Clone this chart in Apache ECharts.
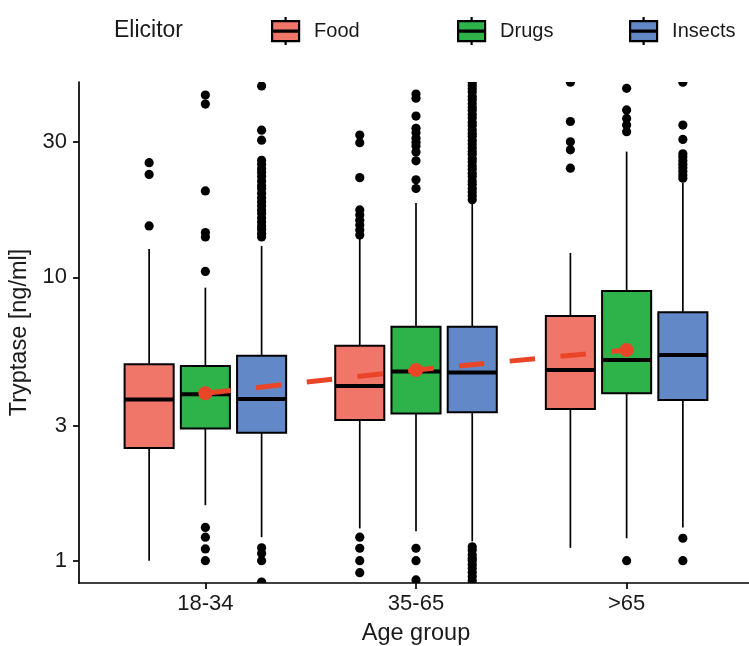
<!DOCTYPE html>
<html>
<head>
<meta charset="utf-8">
<script src="https://cdn.jsdelivr.net/npm/echarts@6/dist/echarts.min.js"></script>
<style>
  html, body { margin: 0; padding: 0; background: #fff; }
  #chart { width: 749px; height: 646px; }
</style>
</head>
<body>
<div id="chart"></div>
<script>
// ---------- data ----------
const groups = ['18-34', '35-65', '>65'];
const elicitors = ['Food', 'Drugs', 'Insects'];
const yTickLabels = [1, 3, 10, 30];

// [lower whisker, Q1, median, Q3, upper whisker] per age group
const foodStats = [
  [1.00, 2.50, 3.71, 4.94, 12.6],
  [1.30, 3.14, 4.14, 5.74, 13.9],
  [1.11, 3.43, 4.71, 7.31, 12.2]
];
const drugsStats = [
  [1.57, 2.93, 3.87, 4.87, 9.2],
  [1.27, 3.31, 4.65, 6.70, 18.3],
  [1.20, 3.90, 5.11, 8.95, 27.8]
];
const insectsStats = [
  [1.21, 2.83, 3.72, 5.29, 12.9],
  [1.17, 3.34, 4.62, 6.70, 18.5],
  [1.31, 3.69, 5.32, 7.53, 21.6]
];

// outliers per age group
const foodOutliers = [
  [25.4, 23.1, 15.2],
  [31.8, 29.9, 22.5, 17.3, 16.6, 15.9, 15.3, 14.7, 14.1, 1.21, 1.106, 1.0, 0.907],
  [48.9, 35.5, 30.1, 28.2, 24.3]
];
const drugsOutliers = [
  [44.0, 40.9, 20.2, 14.4, 13.9, 10.5, 1.31, 1.21, 1.10, 1.0],
  [44.4, 42.9, 37.1, 33.6, 32.4, 31.0, 30.0, 29.1, 27.7, 25.8, 22.1, 20.6, 1.106, 1.0, 0.855],
  [46.5, 39.0, 36.4, 34.5, 32.7, 1.0]
];
const insectsOutliers = [
  [47.4, 33.1, 30.5, 25.9, 25.1, 24.2, 23.5, 22.7, 21.9, 21.1, 20.6, 19.8, 19.1, 18.5, 17.9,
   17.3, 16.8, 16.2, 15.7, 15.2, 14.8, 14.3, 13.9, 1.11, 1.06, 1.0, 0.84],
  [48.9, 47.6, 46.3, 45.1, 43.5, 42.4, 41.0, 39.8, 38.9, 37.6, 36.5, 35.3, 34.4, 33.2, 32.3,
   31.5, 30.4, 29.6, 28.7, 27.9, 27.2, 26.3, 25.6, 24.8, 24.1, 23.3, 22.7, 21.9, 21.3, 20.6,
   20.0, 19.4, 18.8, 1.12, 1.09, 1.05, 1.02, 1.0, 0.97, 0.94, 0.91, 0.88, 0.85],
  [48.9, 34.5, 30.7, 27.3, 26.6, 25.8, 25.1, 24.4, 23.7, 23.0, 22.4, 1.20, 1.0]
];

// mean tryptase trend (drawn at the Drugs position)
const trendValues = [3.90, 4.71, 5.54];

// ---------- styling ----------
const colors = { Food: '#F0766A', Drugs: '#2EB24A', Insects: '#6288C7' };
const dodge = { Food: -0.267, Drugs: 0, Insects: 0.267 };
const boxHalf = 0.1165;
const fontFamily = '"Liberation Sans", Arial, sans-serif';
const textColor = '#1a1a1a';

const statsBy = { Food: foodStats, Drugs: drugsStats, Insects: insectsStats };
const outliersBy = { Food: foodOutliers, Drugs: drugsOutliers, Insects: insectsOutliers };

const legendIcon = 'path://M13.5,0L13.5,4M0,4L27,4L27,13.4L0,13.4ZM0,14.6L27,14.6L27,24L0,24ZM13.5,24L13.5,28';

function boxSeries(name) {
  const off = dodge[name];
  return {
    name: name,
    type: 'custom',
    z: 2,
    itemStyle: { color: colors[name] },
    encode: { x: 0, y: [1, 2, 3, 4, 5] },
    data: statsBy[name].map((s, i) => [i + 1].concat(s)),
    renderItem: function (params, api) {
      const xc = api.value(0) + off;
      const pMin = api.coord([xc, api.value(1)]);
      const pQ1 = api.coord([xc, api.value(2)]);
      const pMed = api.coord([xc, api.value(3)]);
      const pQ3 = api.coord([xc, api.value(4)]);
      const pMax = api.coord([xc, api.value(5)]);
      const left = api.coord([xc - boxHalf, api.value(3)])[0];
      const right = api.coord([xc + boxHalf, api.value(3)])[0];
      return {
        type: 'group',
        children: [
          { type: 'line', shape: { x1: pQ3[0], y1: pQ3[1], x2: pMax[0], y2: pMax[1] },
            style: { stroke: '#000', lineWidth: 1.7 } },
          { type: 'line', shape: { x1: pQ1[0], y1: pQ1[1], x2: pMin[0], y2: pMin[1] },
            style: { stroke: '#000', lineWidth: 1.7 } },
          { type: 'rect', shape: { x: left, y: pQ3[1], width: right - left, height: pQ1[1] - pQ3[1] },
            style: { fill: colors[name], stroke: '#000', lineWidth: 2 } },
          { type: 'line', shape: { x1: left, y1: pMed[1], x2: right, y2: pMed[1] },
            style: { stroke: '#000', lineWidth: 4 } }
        ]
      };
    }
  };
}

function outlierSeries(name) {
  const off = dodge[name];
  const data = [];
  outliersBy[name].forEach((arr, i) => arr.forEach(v => data.push([i + 1 + off, v])));
  return {
    name: name + ' outliers',
    type: 'custom',
    z: 3,
    clip: true,
    silent: true,
    encode: { x: 0, y: 1 },
    data: data,
    renderItem: function (params, api) {
      const p = api.coord([api.value(0), api.value(1)]);
      return { type: 'circle', shape: { cx: p[0], cy: p[1], r: 4.6 }, style: { fill: '#000' } };
    }
  };
}

function legendFor(name, left) {
  return {
    data: [{ name: name, icon: legendIcon, itemStyle: { borderColor: '#000', borderWidth: 2.2 } }],
    left: left, top: 16, padding: 0,
    itemWidth: 27, itemHeight: 28,
    selectedMode: false,
    textStyle: { fontSize: 20, color: textColor, fontFamily: fontFamily, padding: [0, 0, 0, 10] }
  };
}

const option = {
  animation: false,
  backgroundColor: '#fff',
  color: [colors.Food, colors.Drugs, colors.Insects],
  title: {
    text: 'Elicitor', left: 114, top: 19, padding: 0,
    textStyle: { fontSize: 23, fontWeight: 'normal', color: textColor, fontFamily: fontFamily }
  },
  legend: [legendFor('Food', 271), legendFor('Drugs', 457), legendFor('Insects', 629)],
  grid: { left: 79, top: 82, width: 674, height: 501, outerBoundsMode: 'none', containLabel: false },
  xAxis: {
    type: 'value', min: 0.4, max: 3.6,
    name: 'Age group', nameLocation: 'middle', nameGap: 39,
    nameTextStyle: { fontSize: 23.5, color: textColor, fontFamily: fontFamily },
    axisLine: { show: true, onZero: false, lineStyle: { color: '#000', width: 1.7 } },
    axisTick: { show: true, length: 6, customValues: [1, 2, 3], lineStyle: { color: '#000', width: 1.7 } },
    axisLabel: {
      customValues: [1, 2, 3], margin: 10,
      fontSize: 22, color: textColor, fontFamily: fontFamily,
      formatter: v => groups[Math.round(v) - 1]
    },
    splitLine: { show: false }
  },
  yAxis: {
    type: 'log', logBase: 10, min: 0.834, max: 48.95,
    name: 'Tryptase [ng/ml]', nameLocation: 'middle', nameGap: 42,
    nameTextStyle: { fontSize: 23.5, color: textColor, fontFamily: fontFamily },
    axisLine: { show: true, lineStyle: { color: '#000', width: 1.7 } },
    axisTick: { show: true, length: 6, customValues: yTickLabels, lineStyle: { color: '#000', width: 1.7 } },
    axisLabel: {
      customValues: yTickLabels, margin: 12,
      fontSize: 22, color: textColor, fontFamily: fontFamily,
      formatter: v => String(Math.round(v))
    },
    splitLine: { show: false }
  },
  series: [
    boxSeries('Food'), boxSeries('Drugs'), boxSeries('Insects'),
    outlierSeries('Food'), outlierSeries('Drugs'), outlierSeries('Insects'),
    {
      name: 'Mean trend',
      type: 'line',
      z: 5,
      data: trendValues.map((v, i) => [i + 1, v]),
      lineStyle: { color: '#EB4528', width: 5, type: [25.5, 25.5], cap: 'butt' },
      symbol: 'circle', symbolSize: 14, showSymbol: true,
      itemStyle: { color: '#EB4528', borderWidth: 0 },
      silent: true
    }
  ]
};

const chart = echarts.init(document.getElementById('chart'), null, { renderer: 'canvas' });
chart.setOption(option);
</script>
</body>
</html>
